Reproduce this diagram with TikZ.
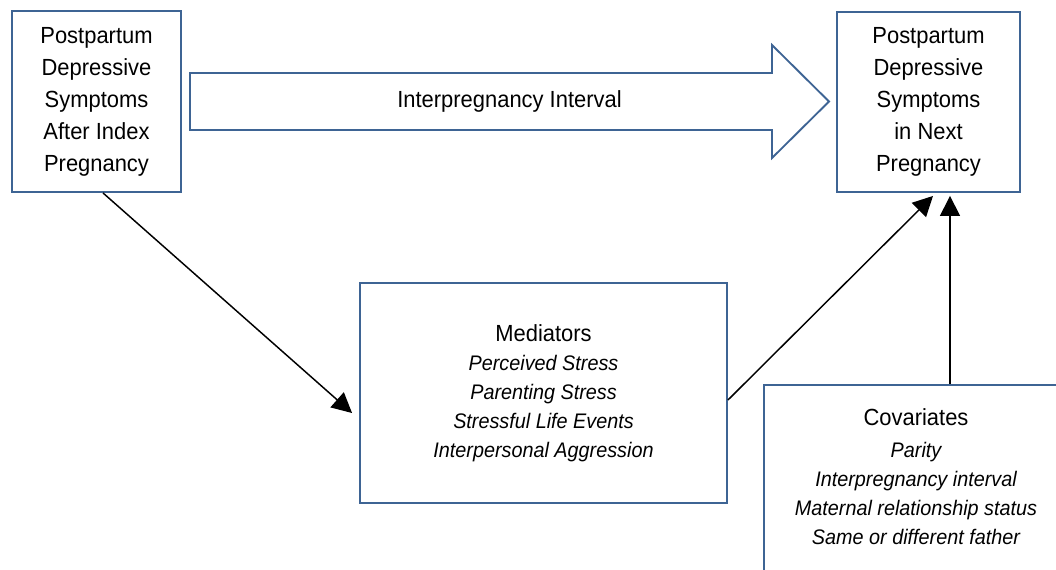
\documentclass[tikz,border=0pt]{standalone}
\usepackage{fontspec}
\setmainfont{Liberation Sans}[FakeStretch=0.94]
\usetikzlibrary{arrows.meta}
\usetikzlibrary{calc}
\definecolor{boxblue}{HTML}{3E6494}

\tikzset{
  box/.style={draw=boxblue, line width=1.4pt, fill=white, align=center, inner sep=0pt},
  bigfont/.style={font=\fontsize{17.5}{24}\selectfont},
  listfont/.style={font=\fontsize{15.8}{21.75}\selectfont\itshape},
  arr/.style={line width=1.1pt, -{Triangle[length=15pt, width=15pt]}}
}

\begin{document}
\begin{tikzpicture}[x=0.75pt, y=-0.75pt]
    \clip (0,0) rectangle (1056,569);
    \fill[white] (0,0) rectangle (1056,569);

    \node[box, bigfont, minimum width=126.75pt, minimum height=135.75pt] (pdsIndex) at (96.5,101.5)
      {Postpartum\\Depressive\\Symptoms\\After Index\\Pregnancy};
    \node[box, bigfont, minimum width=137.25pt, minimum height=135pt] (pdsNext) at (928.5,102)
      {Postpartum\\Depressive\\Symptoms\\in Next\\Pregnancy};
    \node[box, listfont, minimum width=275.25pt, minimum height=165pt] (mediators) at (543.5,393)
      {\textup{\fontsize{17.5}{24}\selectfont Mediators}\\Perceived Stress\\Parenting Stress\\Stressful Life Events\\Interpersonal Aggression};
    \node[box, listfont, text depth=5.5pt, minimum width=228pt, minimum height=142.5pt] (covariates) at (916,480)
      {\textup{\fontsize{17.5}{24}\selectfont Covariates}\\[2.25pt]Parity\\Interpregnancy interval\\Maternal relationship status\\Same or different father};

    \draw[boxblue, line width=1.4pt] (190,73) -- (772,73) -- (772,45) -- (829,101.5)
      -- (772,158) -- (772,130) -- (190,130) -- cycle;
    \node[bigfont] (ipiLabel) at (509.5,101.5) {Interpregnancy Interval};

    \draw[arr] ($(pdsIndex.south)+(6.5,0)$) -- ($(mediators.west)+(-7,20)$);
    \draw[arr] ($(mediators.east)+(0,7)$) -- ($(pdsNext.south)+(4.5,3)$);
    \draw[arr] ($(covariates.north)+(34,0)$) -- ($(pdsNext.south)+(21.5,3)$);
  \end{tikzpicture}
\end{document}
